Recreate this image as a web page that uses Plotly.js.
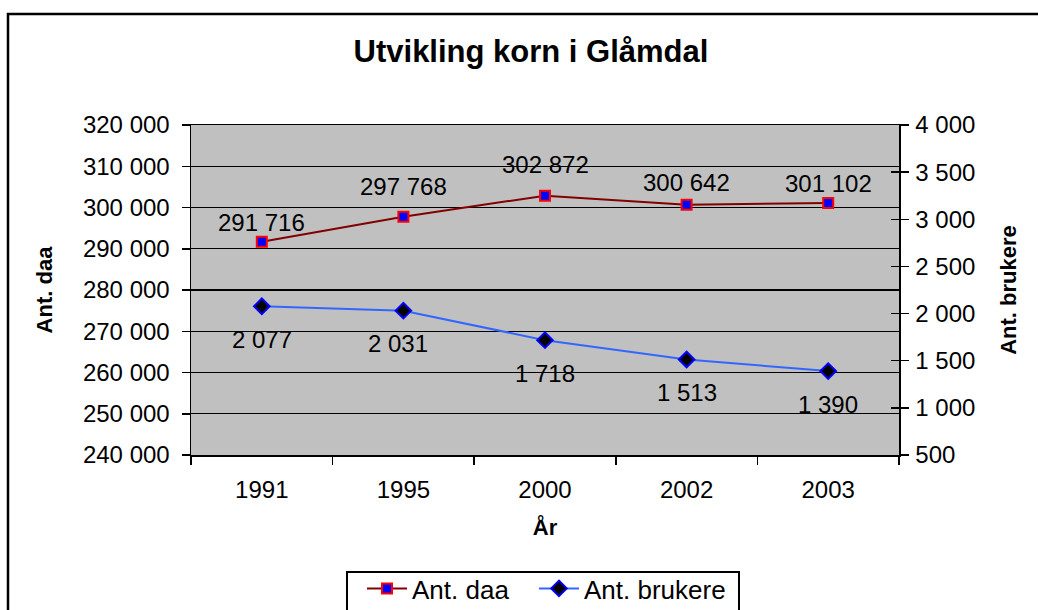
<!DOCTYPE html>
<html>
<head>
<meta charset="utf-8">
<script src="https://cdn.plot.ly/plotly-3.0.1.min.js"></script>
<style>
  html, body { margin: 0; padding: 0; background: #ffffff; }
  #chart { width: 1038px; height: 610px; }
</style>
</head>
<body>
<div id="chart"></div>
<script>
// ---- Data ----
var years = ['1991', '1995', '2000', '2002', '2003'];
var antDaa = [291716, 297768, 302872, 300642, 301102];
var antBrukere = [2077, 2031, 1718, 1513, 1390];

var seriesNames = ['Ant. daa', 'Ant. brukere'];
var chartTitle = 'Utvikling korn i Glåmdal';
var xTitle = 'År';
var yTitle = 'Ant. daa';
var y2Title = 'Ant. brukere';

// ---- Label placement (style, pixels) ----
var daaLabelShift = [19, 30, 31, 22, 19];
var brukereLabelShift = [-33, -33, -33, -33, -33];
var brukereLabelXShift = [0, -5, 0, 0, 0];

function fmt(v) {
  return String(v).replace(/\B(?=(\d{3})+(?!\d))/g, ' ');
}

var FONT = 'Arial, "Liberation Sans", sans-serif';
var TICKSIZE = 24;

var traces = [
  {
    x: years, y: antDaa, name: seriesNames[0], type: 'scatter', mode: 'lines+markers',
    yaxis: 'y', legend: 'legend',
    line: { color: '#800000', width: 2 },
    marker: { symbol: 'square', size: 10, color: '#0000FF', line: { color: '#FF0000', width: 2 } },
    hoverinfo: 'x+y'
  },
  {
    x: years, y: antBrukere, name: seriesNames[1], type: 'scatter', mode: 'lines+markers',
    yaxis: 'y2', legend: 'legend2',
    line: { color: '#3366FF', width: 2 },
    marker: { symbol: 'diamond', size: 12, color: '#000000', line: { color: '#0000FF', width: 2 } },
    hoverinfo: 'x+y'
  }
];

// data labels (x given as category index)
var annotations = [];
years.forEach(function (yr, i) {
  annotations.push({
    x: i, y: antDaa[i], xref: 'x', yref: 'y', text: fmt(antDaa[i]),
    showarrow: false, yshift: daaLabelShift[i], font: { family: FONT, size: TICKSIZE, color: '#000' }
  });
  annotations.push({
    x: i, y: antBrukere[i], xref: 'x', yref: 'y2', text: fmt(antBrukere[i]),
    showarrow: false, yshift: brukereLabelShift[i], xshift: brukereLabelXShift[i],
    font: { family: FONT, size: TICKSIZE, color: '#000' }
  });
});

var L = 191, R = 899, T = 125, B = 455;
var W = 1038, H = 610;
var pw = R - L, ph = B - T;
function px2x(p) { return (p - L) / pw; }
function py2y(p) { return (B - p) / ph; }

function legendAt(px) {
  return {
    orientation: 'h',
    x: px2x(px), xanchor: 'left',
    y: py2y(565), yanchor: 'top',
    bgcolor: 'rgba(0,0,0,0)', borderwidth: 0,
    font: { family: FONT, size: 26, color: '#000' },
    itemwidth: 40
  };
}

var layout = {
  width: W, height: H,
  margin: { l: L, r: W - R, t: T, b: H - B, pad: 0, autoexpand: false },
  paper_bgcolor: '#FFFFFF',
  plot_bgcolor: '#C0C0C0',
  separators: ', ',
  font: { family: FONT, size: TICKSIZE, color: '#000' },
  title: {
    text: '<b>' + chartTitle + '</b>',
    font: { family: FONT, size: 31, color: '#000' },
    xref: 'container', x: 531 / W, xanchor: 'center',
    yref: 'container', y: 1 - 51 / H, yanchor: 'middle'
  },
  showlegend: true,
  legend: legendAt(362),
  legend2: legendAt(534),
  xaxis: {
    type: 'category',
    range: [-0.5, 4.5],
    tickson: 'boundaries',
    ticks: 'outside', ticklen: 8, tickwidth: 1.5, tickcolor: '#000',
    showline: true, linecolor: '#000', linewidth: 1.5, mirror: true,
    showgrid: false, zeroline: false,
    tickfont: { family: FONT, size: TICKSIZE, color: '#000' },
    ticklabelstandoff: 13,
    title: { text: '<b>' + xTitle + '</b>', font: { family: FONT, size: 22, color: '#000' }, standoff: 17 }
  },
  yaxis: {
    range: [240000, 320000], dtick: 10000, tick0: 240000,
    tickformat: ',d',
    ticks: 'outside', ticklen: 8, tickwidth: 1.5, tickcolor: '#000',
    showline: true, linecolor: '#000', linewidth: 1.5,
    showgrid: true, gridcolor: '#000', gridwidth: 1.2,
    zeroline: false,
    tickfont: { family: FONT, size: TICKSIZE, color: '#000' },
    ticklabelstandoff: 7,
    title: { text: '<b>' + yTitle + '</b>', font: { family: FONT, size: 22, color: '#000' }, standoff: 24 }
  },
  yaxis2: {
    overlaying: 'y', side: 'right',
    range: [500, 4000], dtick: 500, tick0: 500,
    tickformat: ',d',
    ticks: 'outside', ticklen: 8, tickwidth: 1.5, tickcolor: '#000',
    showline: true, linecolor: '#000', linewidth: 1.5,
    showgrid: false, zeroline: false,
    tickfont: { family: FONT, size: TICKSIZE, color: '#000' },
    ticklabelstandoff: 2,
    title: { text: '<b>' + y2Title + '</b>', font: { family: FONT, size: 22, color: '#000' }, standoff: 26 }
  },
  yaxis3: {
    overlaying: 'y', side: 'right', anchor: 'x',
    range: [500, 4000], dtick: 500, tick0: 500,
    ticks: 'inside', ticklen: 8, tickwidth: 1.5, tickcolor: '#000',
    showticklabels: false, showline: false, showgrid: false, zeroline: false
  },
  annotations: annotations,
  shapes: [
    {
      type: 'rect', xref: 'paper', yref: 'paper', layer: 'above',
      x0: px2x(8), x1: px2x(1060), y0: py2y(640), y1: py2y(14),
      line: { color: '#000', width: 2.5 }, fillcolor: 'rgba(0,0,0,0)'
    },
    {
      // legend frame
      type: 'rect', xref: 'paper', yref: 'paper', layer: 'above',
      x0: px2x(347), x1: px2x(739), y0: py2y(640), y1: py2y(572),
      line: { color: '#000', width: 2 }, fillcolor: 'rgba(0,0,0,0)'
    }
  ]
};

// dummy trace to realize yaxis3 ticks
traces.push({
  x: years, y: antBrukere, yaxis: 'y3', type: 'scatter', mode: 'none',
  showlegend: false, hoverinfo: 'skip'
});

Plotly.newPlot('chart', traces, layout, { displayModeBar: false, staticPlot: true });
</script>
</body>
</html>
